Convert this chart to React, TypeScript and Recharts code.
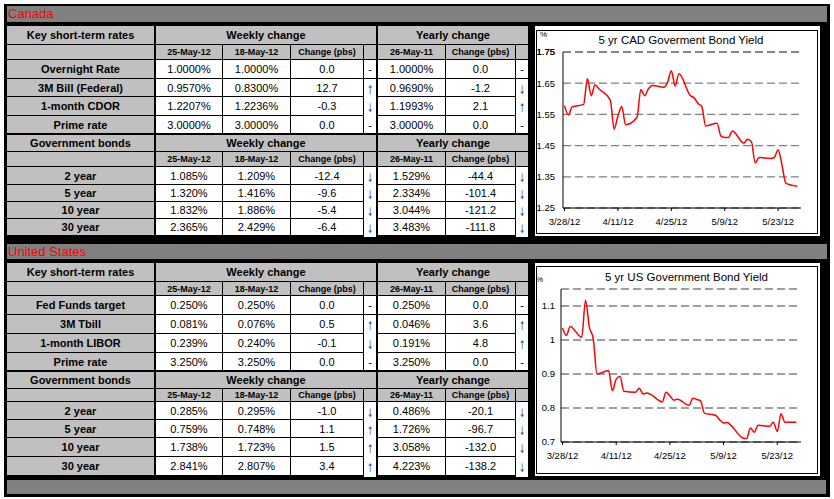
import React from 'react'
import { LineChart, Line, XAxis, YAxis, CartesianGrid, ReferenceLine } from 'recharts'

const FONT = 'Arial, "Liberation Sans", Helvetica, sans-serif'

// table data
const weekDates = ['25-May-12', '18-May-12']
const yearDate = '26-May-11'

const cadShortLabels = ['Overnight Rate', '3M Bill (Federal)', '1-month CDOR', 'Prime rate']
const cadShortCur = [1.0, 0.957, 1.2207, 3.0]
const cadShortPrev = [1.0, 0.83, 1.2236, 3.0]
const cadShortChg = [0.0, 12.7, -0.3, 0.0]
const cadShortYago = [1.0, 0.969, 1.1993, 3.0]
const cadShortYchg = [0.0, -1.2, 2.1, 0.0]

const bondLabels = ['2 year', '5 year', '10 year', '30 year']
const cadBondCur = [1.085, 1.32, 1.832, 2.365]
const cadBondPrev = [1.209, 1.416, 1.886, 2.429]
const cadBondChg = [-12.4, -9.6, -5.4, -6.4]
const cadBondYago = [1.529, 2.334, 3.044, 3.483]
const cadBondYchg = [-44.4, -101.4, -121.2, -111.8]

const usShortLabels = ['Fed Funds target', '3M Tbill', '1-month LIBOR', 'Prime rate']
const usShortCur = [0.25, 0.081, 0.239, 3.25]
const usShortPrev = [0.25, 0.076, 0.24, 3.25]
const usShortChg = [0.0, 0.5, -0.1, 0.0]
const usShortYago = [0.25, 0.046, 0.191, 3.25]
const usShortYchg = [0.0, 3.6, 4.8, 0.0]

const usBondCur = [0.285, 0.759, 1.738, 2.841]
const usBondPrev = [0.295, 0.748, 1.723, 2.807]
const usBondChg = [-1.0, 1.1, 1.5, 3.4]
const usBondYago = [0.486, 1.726, 3.058, 4.223]
const usBondYchg = [-20.1, -96.7, -132.0, -138.2]

// chart data: days since 3/28/12
const xTickDays = [0, 14, 28, 42, 56]
const xTickLabels = ['3/28/12', '4/11/12', '4/25/12', '5/9/12', '5/23/12']

const cadDays = [0, 1, 2, 5, 6, 7, 8, 9, 12, 13, 14, 15, 16, 19, 20, 21, 22, 23, 26, 27, 28, 29, 30, 33, 34, 35, 36, 37, 40, 41, 42, 43, 44, 47, 48, 49, 50, 51, 54, 55, 56, 57, 58, 61]
const cadYield = [1.578, 1.548, 1.574, 1.582, 1.664, 1.61, 1.645, 1.632, 1.596, 1.503, 1.545, 1.575, 1.517, 1.54, 1.63, 1.61, 1.632, 1.643, 1.637, 1.652, 1.69, 1.641, 1.68, 1.61, 1.603, 1.585, 1.575, 1.513, 1.522, 1.48, 1.476, 1.476, 1.497, 1.458, 1.47, 1.462, 1.395, 1.412, 1.409, 1.412, 1.437, 1.389, 1.33, 1.32]
const cadYTicks = [1.25, 1.35, 1.45, 1.55, 1.65, 1.75]

const usDays = [0, 1, 2, 5, 6, 7, 8, 9, 12, 13, 14, 15, 16, 19, 20, 21, 22, 23, 26, 27, 28, 29, 30, 33, 34, 35, 36, 37, 40, 41, 42, 43, 44, 47, 48, 49, 50, 51, 54, 55, 56, 57, 58, 61]
const usYield = [1.035, 1.013, 1.04, 1.008, 1.117, 1.038, 1.005, 0.9, 0.91, 0.851, 0.885, 0.893, 0.849, 0.846, 0.858, 0.841, 0.844, 0.84, 0.818, 0.846, 0.836, 0.823, 0.826, 0.808, 0.829, 0.825, 0.821, 0.785, 0.778, 0.765, 0.756, 0.757, 0.748, 0.712, 0.71, 0.741, 0.729, 0.749, 0.746, 0.758, 0.731, 0.783, 0.758, 0.758]
const usYTicks = [0.7, 0.8, 0.9, 1, 1.1]

const cadData = cadDays.map((d, i) => ({ day: d, v: cadYield[i] }))
const usData = usDays.map((d, i) => ({ day: d, v: usYield[i] }))

// layout
const COLS: [number, number][] = [[7, 154], [156, 222], [223, 290], [291, 363], [364, 376], [378, 445], [446, 515], [516, 528]]
const cadRows: [number, number][] = [[26, 44], [45, 59], [60, 78], [79, 96], [97, 115], [116, 133], [135, 151], [152, 166], [167, 184], [185, 201], [202, 218], [219, 235]]
const usRows: [number, number][] = [[263, 281], [282, 295], [296, 314], [315, 333], [334, 352], [353, 370], [372, 388], [389, 401], [402, 419], [420, 437], [438, 456], [457, 475]]

const GRAY = '#c0c0c0'
const DARK = '#808080'

const arrow = (v: number) => (v > 0 ? '↑' : v < 0 ? '↓' : '-')

function Cell({ x1, x2, y, bg, children, style }: any) {
  return (
    <div
      style={{
        position: 'absolute', left: x1, top: y[0], width: x2 - x1, height: y[1] - y[0],
        background: bg, display: 'flex', alignItems: 'center', justifyContent: 'center',
        whiteSpace: 'nowrap', overflow: 'hidden', ...style,
      }}
    >
      {children}
    </div>
  )
}

const labelStyle = { fontWeight: 700, fontSize: 11 }
const valStyle = { fontSize: 11 }
const subStyle = { fontWeight: 700, fontSize: 9 }

function Block({ rows, title, labels, cur, prev, chg, yago, ychg, dec }: any) {
  const out: any[] = []
  const [h, s] = [rows[0], rows[1]]
  out.push(<Cell key="h0" x1={COLS[0][0]} x2={COLS[0][1]} y={h} bg={GRAY} style={labelStyle}>{title}</Cell>)
  out.push(<Cell key="h1" x1={COLS[1][0]} x2={COLS[4][1]} y={h} bg={GRAY} style={labelStyle}>Weekly change</Cell>)
  out.push(<Cell key="h2" x1={COLS[5][0]} x2={COLS[7][1]} y={h} bg={GRAY} style={labelStyle}>Yearly change</Cell>)
  const subs = ['', weekDates[0], weekDates[1], 'Change (pbs)', '', yearDate, 'Change (pbs)', '']
  subs.forEach((t, i) => out.push(
    <Cell key={'s' + i} x1={COLS[i][0]} x2={COLS[i][1]} y={s} bg={GRAY} style={subStyle}>{t}</Cell>
  ))
  labels.forEach((lab: string, r: number) => {
    const y = rows[r + 2]
    const cells = [
      lab,
      cur[r].toFixed(dec) + '%',
      prev[r].toFixed(dec) + '%',
      chg[r].toFixed(1),
      arrow(chg[r]),
      yago[r].toFixed(dec) + '%',
      ychg[r].toFixed(1),
      arrow(ychg[r]),
    ]
    cells.forEach((t, i) => {
      const isArrow = i === 4 || i === 7
      let content: any = t
      let st: any = i === 0 ? labelStyle : valStyle
      if (isArrow && t !== '-') {
        st = { fontSize: 12, color: '#2a4a85', fontFamily: '"DejaVu Sans", sans-serif', paddingTop: 2 }
        content = <span style={{ display: 'inline-block', transform: 'scaleX(0.6)' }}>{t}</span>
      }
      out.push(
        <Cell key={'r' + r + 'c' + i} x1={COLS[i][0]} x2={COLS[i][1]} y={y} bg={i === 0 ? GRAY : '#fff'} style={st}>{content}</Cell>
      )
    })
  })
  return <>{out}</>
}

const tickStyle = { fill: '#000', fontSize: 9.5, fontFamily: FONT }

function YieldChart({ data, yDomain, yTicks, fmt, top, height, marginTop, yWidth, xHeight, yMargin, xMax, topLabel }: any) {
  return (
    <div style={{ position: 'absolute', left: 536, top }}>
      <LineChart width={282} height={height} data={data} margin={{ top: marginTop, right: 17, bottom: 0, left: 0 }}>
        <CartesianGrid vertical={false} stroke="#808080" strokeDasharray="8 4" strokeWidth={1.3} />
        <XAxis
          dataKey="day" type="number" domain={[-0.4, xMax]} ticks={xTickDays} interval={0}
          tickFormatter={(v: number) => xTickLabels[xTickDays.indexOf(v)]}
          stroke="#000" tickSize={3} tickMargin={7} tick={tickStyle} height={xHeight} allowDataOverflow
        />
        <YAxis
          type="number" domain={yDomain} ticks={yTicks} interval={0} tickFormatter={fmt}
          width={yWidth} tickLine={false} tickMargin={yMargin} stroke="#000" tick={tickStyle} allowDataOverflow
        />
        {topLabel != null && (
          <ReferenceLine
            y={topLabel} stroke="#808080" strokeDasharray="8 4" strokeWidth={1.3} ifOverflow="visible"
            label={{ value: fmt(topLabel), position: 'left', offset: 8, fill: '#000', fontSize: 9.5, fontFamily: FONT }}
          />
        )}
        <Line dataKey="v" type="monotone" stroke="#ff0000" strokeWidth={1.5} dot={false} isAnimationActive={false} />
      </LineChart>
    </div>
  )
}

export default function App() {
  return (
    <div style={{ position: 'absolute', left: 0, top: 0, width: 834, height: 499, background: '#fff', fontFamily: FONT, overflow: 'hidden', color: '#000' }}>
      <div style={{ position: 'absolute', left: 4, top: 4, width: 826, height: 493, background: '#000' }} />

      {/* Canada */}
      <div style={{ position: 'absolute', left: 7, top: 6, width: 819, height: 16, background: DARK, color: '#ff0000', fontSize: 13, lineHeight: '16px', paddingLeft: 1 }}>Canada</div>
      <Block rows={cadRows.slice(0, 6)} title="Key short-term rates" labels={cadShortLabels} cur={cadShortCur} prev={cadShortPrev} chg={cadShortChg} yago={cadShortYago} ychg={cadShortYchg} dec={4} />
      <Block rows={cadRows.slice(6)} title="Government bonds" labels={bondLabels} cur={cadBondCur} prev={cadBondPrev} chg={cadBondChg} yago={cadBondYago} ychg={cadBondYchg} dec={3} />
      <div style={{ position: 'absolute', left: 535, top: 26, width: 285, height: 210, background: '#fff' }} />
      <div style={{ position: 'absolute', left: 536, top: 30, width: 282, height: 204, border: '1px solid #000', boxSizing: 'border-box' }} />
      <YieldChart data={cadData} yDomain={[1.25, 1.75]} yTicks={cadYTicks} fmt={(v: number) => v.toFixed(2)} top={30} height={204} marginTop={22} yWidth={27} xHeight={26} yMargin={2} xMax={62} topLabel={1.75} />
      <div style={{ position: 'absolute', left: 531, width: 300, top: 33, textAlign: 'center', fontSize: 11.5, lineHeight: '14px', whiteSpace: 'nowrap' }}>5 yr CAD Goverment Bond Yield</div>
      <div style={{ position: 'absolute', left: 540, top: 30, fontSize: 8 }}>%</div>

      {/* United States */}
      <div style={{ position: 'absolute', left: 7, top: 244, width: 819, height: 15, background: DARK, color: '#ff0000', fontSize: 13, lineHeight: '15px', paddingLeft: 1 }}>United States</div>
      <Block rows={usRows.slice(0, 6)} title="Key short-term rates" labels={usShortLabels} cur={usShortCur} prev={usShortPrev} chg={usShortChg} yago={usShortYago} ychg={usShortYchg} dec={3} />
      <Block rows={usRows.slice(6)} title="Government bonds" labels={bondLabels} cur={usBondCur} prev={usBondPrev} chg={usBondChg} yago={usBondYago} ychg={usBondYchg} dec={3} />
      <div style={{ position: 'absolute', left: 535, top: 263, width: 285, height: 213, background: '#fff' }} />
      <div style={{ position: 'absolute', left: 536, top: 266, width: 282, height: 208, border: '1px solid #000', boxSizing: 'border-box' }} />
      <YieldChart data={usData} yDomain={[0.7, 1.15]} yTicks={usYTicks} fmt={(v: number) => String(v)} top={266} height={208} marginTop={23} yWidth={25} xHeight={32} yMargin={0} xMax={62.2} />
      <div style={{ position: 'absolute', left: 536.5, width: 300, top: 270, textAlign: 'center', fontSize: 11.5, lineHeight: '14px', whiteSpace: 'nowrap' }}>5 yr US Government Bond Yield</div>
      <div style={{ position: 'absolute', left: 536, top: 275, fontSize: 8 }}>%</div>

      {/* footer bar */}
      <div style={{ position: 'absolute', left: 7, top: 480, width: 819, height: 14, background: DARK }} />
    </div>
  )
}
